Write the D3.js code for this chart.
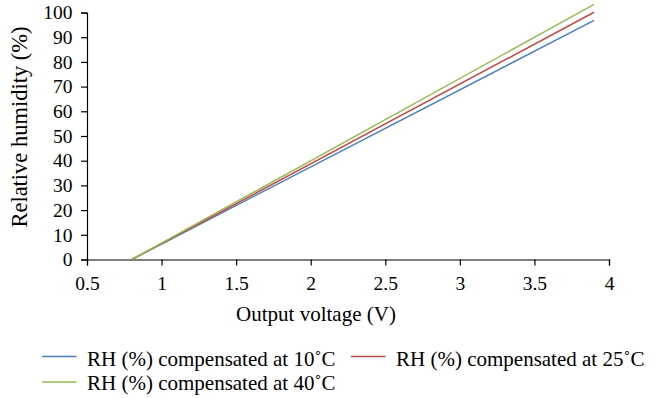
<!DOCTYPE html>
<html>
<head>
<meta charset="utf-8">
<script src="https://cdn.jsdelivr.net/npm/d3@7"></script>
<style>
  html, body { margin: 0; padding: 0; background: #fff; }
  svg text { font-family: "Liberation Serif", "Times New Roman", serif; fill: #000; }
</style>
</head>
<body>
<svg id="chart" width="657" height="398"></svg>
<script>
// Output voltage (V) at the two ends of each calibration line
const voltage = [0.8, 3.9];
// RH (%) for each temperature compensation
const rh10 = [0, 96.8];
const rh25 = [0, 100.1];
const rh40 = [0, 103.3];

const seriesNames = [
  "RH (%) compensated at 10˚C",
  "RH (%) compensated at 25˚C",
  "RH (%) compensated at 40˚C"
];
const seriesColors = ["#4a7ebb", "#be4b48", "#98b954"];

const xTicks = [0.5, 1, 1.5, 2, 2.5, 3, 3.5, 4];
const yTicks = [0, 10, 20, 30, 40, 50, 60, 70, 80, 90, 100];

const svg = d3.select("#chart");
const x = d3.scaleLinear().domain([0.5, 4]).range([87, 609]);
const y = d3.scaleLinear().domain([0, 100]).range([259.5, 12.5]);

const serif = '"Liberation Serif", "Times New Roman", serif';

// Axes
const xAxis = svg.append("g")
  .attr("transform", `translate(0,${y(0)})`)
  .call(d3.axisBottom(x).tickValues(xTicks).tickSize(6).tickPadding(10.5)
    .tickFormat(d => String(d)));
const yAxis = svg.append("g")
  .attr("transform", `translate(${x(0.5)},0)`)
  .call(d3.axisLeft(y).tickValues(yTicks).tickSize(6).tickPadding(8.5));

[xAxis, yAxis].forEach(g => {
  g.attr("font-family", null);
  g.select(".domain").attr("stroke", "#000").attr("stroke-width", 1.2);
  g.selectAll(".tick line").attr("stroke", "#000").attr("stroke-width", 1.2);
  g.selectAll(".tick text")
    .style("font-family", serif)
    .style("font-size", "19.5px").attr("fill", "#000");
});

// Axis titles
svg.append("text")
  .attr("x", 316).attr("y", 321)
  .attr("text-anchor", "middle").style("font-size", "21px")
  .text("Output voltage (V)");
svg.append("text")
  .attr("transform", "translate(27,127) rotate(-90)")
  .attr("text-anchor", "middle").style("font-size", "22.5px")
  .text("Relative humidity (%)");

// Lines
const allSeries = [rh10, rh25, rh40];
const line = d3.line().x((d, i) => x(voltage[i])).y(d => y(d));
allSeries.forEach((vals, k) => {
  svg.append("path")
    .datum(vals)
    .attr("fill", "none")
    .attr("stroke", seriesColors[k])
    .attr("stroke-width", 1.5)
    .attr("d", line);
});

// Legend
const legendPos = [
  { lx: 42, ly: 356.5, ty: 365.5 },
  { lx: 351, ly: 356.5, ty: 365.5 },
  { lx: 42, ly: 382, ty: 389.5 }
];
seriesNames.forEach((name, k) => {
  const p = legendPos[k];
  svg.append("line")
    .attr("x1", p.lx).attr("x2", p.lx + 34.5)
    .attr("y1", p.ly).attr("y2", p.ly)
    .attr("stroke", seriesColors[k]).attr("stroke-width", 1.5);
  svg.append("text")
    .attr("x", p.lx + 45).attr("y", p.ty)
    .style("font-size", "21px")
    .text(name);
});
</script>
</body>
</html>
